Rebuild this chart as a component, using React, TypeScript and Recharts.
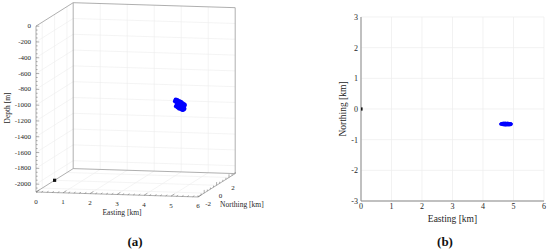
import React from 'react';
import { ScatterChart, Scatter, XAxis, YAxis, CartesianGrid, ReferenceLine } from 'recharts';

// event cloud: easting [km], northing [km], depth [m]
const eventEasting = [4.60, 4.62, 4.63, 4.65, 4.66, 4.67, 4.68, 4.69, 4.70, 4.71, 4.72, 4.73, 4.74, 4.74, 4.75, 4.76, 4.77, 4.77, 4.78, 4.79, 4.80, 4.80, 4.81, 4.82, 4.83, 4.84, 4.85, 4.86, 4.87, 4.88, 4.89, 4.90, 4.91, 4.64, 4.70, 4.76, 4.72, 4.79, 4.85, 4.58, 4.93, 4.83, 4.68, 4.75];
const eventNorthing = [-0.48, -0.50, -0.47, -0.49, -0.51, -0.46, -0.48, -0.50, -0.47, -0.52, -0.49, -0.46, -0.48, -0.51, -0.50, -0.47, -0.49, -0.52, -0.48, -0.50, -0.46, -0.49, -0.51, -0.48, -0.50, -0.47, -0.52, -0.49, -0.48, -0.50, -0.49, -0.51, -0.48, -0.48, -0.50, -0.48, -0.47, -0.49, -0.50, -0.49, -0.49, -0.48, -0.49, -0.49];
const eventDepth = [-1010, -1090, -1038, -1078, -1012, -1063, -1104, -1032, -1063, -1100, -1026, -1086, -1046, -1115, -1066, -1040, -1105, -1058, -1090, -1034, -1120, -1080, -1053, -1108, -1075, -1132, -1048, -1098, -1068, -1128, -1092, -1060, -1118, -1088, -1034, -1112, -1078, -1060, -1118, -1028, -1070, -1110, -1035, -1071];

// well head marker
const wellEasting = [0];
const wellNorthing = [0];
const wellDepth = [-2100];

const eastingTicks = [0, 1, 2, 3, 4, 5, 6];
const northingTicks3d = [-2, 0, 2];
const northingTicks2d = [-3, -2, -1, 0, 1, 2, 3];
const depthTicks = [0, -200, -400, -600, -800, -1000, -1200, -1400, -1600, -1800, -2000];

const E_MIN = 0, E_MAX = 6, N_MIN = -3, N_MAX = 3, D_MIN = -2100, D_MAX = 0;

// oblique projection of the 3D box onto the panel (a) pixel plane
const proj = (e: number, n: number, d: number) => ({
  x: 36 + e * 27 + (n - N_MIN) * 6.2,
  y: 192 + e * 0.83 - (n - N_MIN) * 3.9 - (d - D_MIN) * 0.079,
});

type P3 = [number, number, number];
type Seg = { a: P3; b: P3; kind: 'grid' | 'edge' | 'tick' };

const range = (from: number, to: number, step: number) => {
  const out: number[] = [];
  for (let v = from; v <= to + 1e-9; v += step) out.push(Math.round(v * 1000) / 1000);
  return out;
};

const segments: Seg[] = [];
// grid on back wall, left wall and floor
depthTicks.filter((d) => d !== 0).forEach((d) => {
  segments.push({ a: [E_MIN, N_MAX, d], b: [E_MAX, N_MAX, d], kind: 'grid' });
  segments.push({ a: [E_MIN, N_MIN, d], b: [E_MIN, N_MAX, d], kind: 'grid' });
});
eastingTicks.slice(1, -1).forEach((e) => {
  segments.push({ a: [e, N_MAX, D_MIN], b: [e, N_MAX, D_MAX], kind: 'grid' });
  segments.push({ a: [e, N_MIN, D_MIN], b: [e, N_MAX, D_MIN], kind: 'grid' });
});
northingTicks3d.forEach((n) => {
  segments.push({ a: [E_MIN, n, D_MIN], b: [E_MIN, n, D_MAX], kind: 'grid' });
  segments.push({ a: [E_MIN, n, D_MIN], b: [E_MAX, n, D_MIN], kind: 'grid' });
});
// box edges
const edges: [P3, P3][] = [
  [[0, -3, D_MIN], [0, -3, 0]],
  [[0, -3, 0], [0, 3, 0]],
  [[0, 3, D_MIN], [0, 3, 0]],
  [[0, 3, 0], [6, 3, 0]],
  [[6, 3, 0], [6, 3, D_MIN]],
  [[0, -3, D_MIN], [6, -3, D_MIN]],
  [[6, -3, D_MIN], [6, 3, D_MIN]],
  [[0, -3, D_MIN], [0, 3, D_MIN]],
  [[0, 3, D_MIN], [6, 3, D_MIN]],
];
edges.forEach(([a, b]) => segments.push({ a, b, kind: 'edge' }));
// axis ticks
range(-2100, 0, 50).forEach((d) => {
  const major = d % 200 === 0;
  segments.push({ a: [0, -3, d], b: [major ? 0.12 : 0.06, -3, d], kind: 'tick' });
});
range(0, 6, 0.2).forEach((e) => {
  const major = Math.abs(e - Math.round(e)) < 1e-6;
  segments.push({ a: [e, -3, D_MIN], b: [e, major ? -2.45 : -2.72, D_MIN], kind: 'tick' });
});
range(-3, 3, 0.5).forEach((n) => {
  const major = Math.abs(n % 2) < 1e-6;
  segments.push({ a: [6, n, D_MIN], b: [6, n, D_MIN + (major ? 40 : 20)], kind: 'tick' });
});

const segStyle = {
  grid: { stroke: '#ececec', strokeWidth: 0.6 },
  edge: { stroke: '#9a9a9a', strokeWidth: 0.8 },
  tick: { stroke: '#777', strokeWidth: 0.6 },
};

type Lbl = { x: number; y: number; text: string; anchor: string; size: number; rotate?: boolean };
const lbl = (p: { x: number; y: number }, dx: number, dy: number, text: string, anchor: string, size: number, rotate = false): Lbl => ({
  x: p.x + dx, y: p.y + dy, text, anchor, size, rotate,
});

const labels3d: Lbl[] = [
  ...depthTicks.map((d) => lbl(proj(0, -3, d), -5, 0, String(d), 'end', 7)),
  ...eastingTicks.map((e) => lbl(proj(e, -3, D_MIN), 0, 9.5, String(e), 'middle', 7)),
  ...northingTicks3d.map((n) => lbl(proj(6, n, D_MIN), 4, 11, String(n), 'middle', 7)),
  lbl(proj(3, -3, D_MIN), 5, 18, 'Easting [km]', 'middle', 7.5),
  lbl(proj(6, 0, D_MIN), 3.5, 19, 'Northing [km]', 'start', 7.5),
  lbl({ x: 7, y: 108 }, 0, 0, 'Depth [m]', 'middle', 7.5, true),
];

const events3d = eventEasting.map((e, i) => proj(e, eventNorthing[i], eventDepth[i]));
const well3d = wellEasting.map((e, i) => proj(e, wellNorthing[i], wellDepth[i]));
const events2d = eventEasting.map((e, i) => ({ e, n: eventNorthing[i] }));
const well2d = wellEasting.map((e, i) => ({ e, n: wellNorthing[i] }));

const FONT = '"Liberation Serif", "DejaVu Serif", serif';

const TextMark = (props: any) => {
  const { cx, cy } = props;
  const p = props.payload ?? props;
  return (
    <text
      x={cx}
      y={cy}
      textAnchor={p.anchor}
      dominantBaseline="central"
      fontSize={p.size}
      fontFamily={FONT}
      fill="#262626"
      transform={p.rotate ? `rotate(-90 ${cx} ${cy})` : undefined}
    >
      {p.text}
    </text>
  );
};

const Dot = (props: any) => <circle cx={props.cx} cy={props.cy} r={1.6} fill="#0000ff" />;
const Dot3D = (props: any) => <circle cx={props.cx} cy={props.cy} r={2.3} fill="#0000ff" />;
const WellMark = (props: any) => (
  <g>
    <rect x={props.cx - 1.6} y={props.cy - 1.6} width={3.2} height={3.2} fill="#111" />
  </g>
);

const minor2d = range(0, 6, 0.2);
const minorN2d = range(-3, 3, 0.2);

const Panel3D = () => (
  <ScatterChart width={280} height={251} margin={{ top: 0, right: 0, bottom: 0, left: 0 }}>
    <XAxis type="number" dataKey="x" domain={[0, 280]} allowDataOverflow hide height={0} />
    <YAxis type="number" dataKey="y" domain={[0, 251]} allowDataOverflow reversed hide width={0} />
    {segments.map((s, i) => (
      <ReferenceLine
        key={i}
        segment={[proj(...s.a), proj(...s.b)]}
        stroke={segStyle[s.kind].stroke}
        strokeWidth={segStyle[s.kind].strokeWidth}
        ifOverflow="visible"
      />
    ))}
    <Scatter data={labels3d} shape={TextMark} isAnimationActive={false} />
    <Scatter data={well3d} shape={WellMark} isAnimationActive={false} />
    <Scatter data={events3d} shape={Dot3D} isAnimationActive={false} />
  </ScatterChart>
);

const Panel2D = () => (
  <ScatterChart width={260} height={251} margin={{ top: 17, right: 6, bottom: 30, left: 51 }}>
    <CartesianGrid stroke="#ececec" strokeWidth={0.7} />
    <XAxis xAxisId="minorB" type="number" domain={[0, 6]} allowDataOverflow ticks={minor2d} height={0} mirror tickSize={2} tick={false} axisLine={false} tickLine={{ stroke: '#888' }} />
    <XAxis
      type="number"
      dataKey="e"
      domain={[0, 6]}
      allowDataOverflow
      ticks={eastingTicks}
      height={20}
      tickSize={0}
      tickMargin={2}
      axisLine={{ stroke: '#888' }}
      tick={{ fontSize: 8, fill: '#262626', fontFamily: FONT }}
      label={{ value: 'Easting [km]', position: 'bottom', offset: -6, style: { fontSize: 9.5, fill: '#262626', fontFamily: FONT } }}
    />
    <XAxis xAxisId="top" orientation="top" type="number" domain={[0, 6]} allowDataOverflow ticks={minor2d} height={0} mirror tickSize={2} tick={false} axisLine={{ stroke: '#aaa' }} tickLine={{ stroke: '#888' }} />
    <YAxis yAxisId="minorL" type="number" domain={[-3, 3]} allowDataOverflow ticks={minorN2d} width={0} mirror tickSize={2} tick={false} axisLine={false} tickLine={{ stroke: '#888' }} />
    <YAxis
      type="number"
      dataKey="n"
      domain={[-3, 3]}
      allowDataOverflow
      ticks={northingTicks2d}
      width={20}
      tickSize={0}
      tickMargin={3}
      axisLine={{ stroke: '#888' }}
      tick={{ fontSize: 8, fill: '#262626', fontFamily: FONT }}
      label={{ value: 'Northing [km]', angle: -90, position: 'insideLeft', offset: 2, style: { textAnchor: 'middle', fontSize: 9.5, fill: '#262626', fontFamily: FONT } }}
    />
    <YAxis yAxisId="right" orientation="right" type="number" domain={[-3, 3]} allowDataOverflow ticks={minorN2d} width={0} mirror tickSize={2} tick={false} axisLine={{ stroke: '#aaa' }} tickLine={{ stroke: '#888' }} />
    <Scatter data={events2d} shape={Dot} isAnimationActive={false} />
    <Scatter data={well2d} shape={WellMark} isAnimationActive={false} />
  </ScatterChart>
);

const titleStyle: React.CSSProperties = {
  position: 'absolute',
  top: 233,
  width: 40,
  textAlign: 'center',
  fontFamily: FONT,
  fontWeight: 'bold',
  fontSize: 13,
  lineHeight: '18px',
  color: '#111',
};

export default function App() {
  return (
    <div style={{ position: 'absolute', left: 0, top: 0, width: 550, height: 251, background: '#fff', overflow: 'hidden' }}>
      <div style={{ position: 'absolute', left: 0, top: 0 }}>
        <Panel3D />
      </div>
      <div style={{ position: 'absolute', left: 290, top: 0 }}>
        <Panel2D />
      </div>
      <div style={{ ...titleStyle, left: 115 }}>(a)</div>
      <div style={{ ...titleStyle, left: 425 }}>(b)</div>
    </div>
  );
}
